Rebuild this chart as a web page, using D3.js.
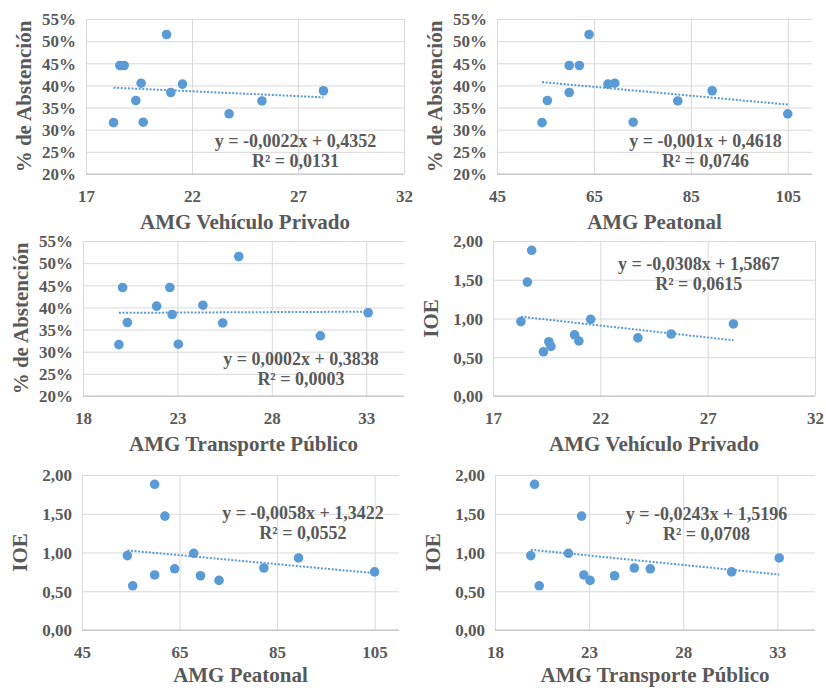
<!DOCTYPE html>
<html>
<head>
<meta charset="utf-8">
<script src="https://cdn.jsdelivr.net/npm/d3@7"></script>
<style>
  body { margin: 0; background: #fff; }
  #vis { width: 826px; height: 688px; }
  text { font-family: 'Liberation Serif', 'Times New Roman', serif; font-weight: bold; fill: #595959; }
</style>
</head>
<body>
<div id="vis"></div>
<script>
// values, one entry per municipality (same order in every array)
var vehiculo   = [18.3, 18.6, 18.8, 19.35, 19.6, 19.7, 20.8, 21.0, 21.55, 23.75, 25.3, 28.2];
var peatonal   = [54.3, 62.0, 59.9, 55.4, 69.3, 73.1, 64.0, 59.9, 67.9, 105.0, 82.3, 89.4];
var transporte = [19.9, 22.6, 20.1, 20.35, 24.35, 23.05, 26.25, 22.72, 21.9, 30.57, 25.4, 33.1];
var abstencion = [0.316, 0.445, 0.445, 0.366, 0.405, 0.317, 0.515, 0.384, 0.403, 0.336, 0.365, 0.388];
var ioe        = [0.96, 1.47, 1.88, 0.57, 0.70, 0.64, 0.79, 0.71, 0.99, 0.75, 0.80, 0.93];

// axis ticks
var ticksVehiculo   = [17, 22, 27, 32];
var ticksPeatonal   = [45, 65, 85, 105];
var ticksTransporte = [18, 23, 28, 33];
var ticksAbstencion = [0.20, 0.25, 0.30, 0.35, 0.40, 0.45, 0.50, 0.55];
var ticksIoe        = [0, 0.5, 1, 1.5, 2];

// trendlines (Excel linear fit): slope, intercept, R²
var slopes     = [-0.0022, -0.001, 0.0002, -0.0308, -0.0058, -0.0243];
var intercepts = [0.4352, 0.4618, 0.3838, 1.5867, 1.3422, 1.5196];
var r2         = [0.0131, 0.0746, 0.0003, 0.0615, 0.0552, 0.0708];

var xSeries = {
  veh:  { values: vehiculo,   ticks: ticksVehiculo,   domain: [17, 32],  title: 'AMG Vehículo Privado' },
  peat: { values: peatonal,   ticks: ticksPeatonal,   domain: [45, 110], title: 'AMG Peatonal' },
  tra:  { values: transporte, ticks: ticksTransporte, domain: [18, 35],  title: 'AMG Transporte Público' }
};
var ySeries = {
  abs: { values: abstencion, ticks: ticksAbstencion, domain: [0.20, 0.55], title: '% de Abstención' },
  ioe: { values: ioe,        ticks: ticksIoe,        domain: [0, 2],       title: 'IOE' }
};

var locale = d3.formatLocale({ decimal: ',', thousands: '.', grouping: [3], currency: ['', ''], minus: '-' });
var fmtPct = locale.format('.0%');
var fmtIoe = locale.format('.2f');
var fmtSlope = locale.format('.4~f');
var fmtEq  = locale.format('.4f');

// panel boxes in page px, label position as fraction of plot box
var panels = [
  { x: 'veh',  y: 'abs', left: 86,  right: 404, top: 19,  bottom: 174, lx: 0.659, ly: 0.824 },
  { x: 'peat', y: 'abs', left: 497, right: 812, top: 19,  bottom: 174, lx: 0.662, ly: 0.824 },
  { x: 'tra',  y: 'abs', left: 83,  right: 404, top: 241, bottom: 396, lx: 0.679, ly: 0.80 },
  { x: 'veh',  y: 'ioe', left: 493, right: 815, top: 241, bottom: 396, lx: 0.639, ly: 0.188 },
  { x: 'peat', y: 'ioe', left: 82,  right: 399, top: 475, bottom: 630, lx: 0.697, ly: 0.284 },
  { x: 'tra',  y: 'ioe', left: 495, right: 815, top: 475, bottom: 630, lx: 0.661, ly: 0.291 }
];

var svg = d3.select('#vis')
  .append('svg')
  .attr('width', 826)
  .attr('height', 688);

panels.forEach(function(p, i) {
  var xs = xSeries[p.x], ys = ySeries[p.y];
  var w = p.right - p.left, h = p.bottom - p.top;

  var x_scale = d3.scaleLinear().domain(xs.domain).range([0, w]);
  var y_scale = d3.scaleLinear().domain(ys.domain).range([h, 0]);

  var g = svg.append('g')
    .attr('transform', 'translate(' + p.left + ',' + p.top + ')');

  // gridlines + tick labels
  var yAxis = d3.axisLeft(y_scale)
    .tickValues(ys.ticks)
    .tickSize(-w)
    .tickFormat(p.y == 'abs' ? fmtPct : fmtIoe);
  var gy = g.append('g').attr('class', 'y axis').call(yAxis);
  gy.select('.domain').remove();
  gy.selectAll('line').attr('stroke', '#d9d9d9');
  gy.selectAll('text')
    .attr('x', -10)
    .attr('dy', '0.34em')
    .style('font-size', '17px');

  var xAxis = d3.axisBottom(x_scale)
    .tickValues(xs.ticks)
    .tickSize(-h);
  var gx = g.append('g').attr('class', 'x axis')
    .attr('transform', 'translate(0,' + h + ')')
    .call(xAxis);
  gx.select('.domain').remove();
  gx.selectAll('line').attr('stroke', '#d9d9d9');
  gx.selectAll('text')
    .attr('y', 28)
    .attr('dy', 0)
    .style('font-size', '17px');

  // bottom axis line
  g.append('line')
    .attr('x1', 0).attr('x2', w)
    .attr('y1', h).attr('y2', h)
    .attr('stroke', '#bfbfbf');

  // axis titles (keep the last row inside the page)
  g.append('text')
    .attr('x', w / 2)
    .attr('y', Math.min(h + 55, 682 - p.top))
    .attr('text-anchor', 'middle')
    .style('font-size', '21px')
    .text(xs.title);

  g.append('text')
    .attr('transform', 'translate(-55,' + (h / 2) + ') rotate(-90)')
    .attr('text-anchor', 'middle')
    .style('font-size', '21px')
    .text(ys.title);

  // trendline from min x to max x
  var ext = d3.extent(xs.values);
  var fit = function(v) { return slopes[i] * v + intercepts[i]; };
  g.append('line')
    .attr('x1', x_scale(ext[0])).attr('y1', y_scale(fit(ext[0])))
    .attr('x2', x_scale(ext[1])).attr('y2', y_scale(fit(ext[1])))
    .attr('stroke', '#5b9bd5')
    .attr('stroke-width', 2)
    .attr('stroke-dasharray', '2,1.6');

  // points
  var pts = xs.values.map(function(v, k) { return [v, ys.values[k]]; });
  g.selectAll('.dot')
    .data(pts)
    .enter()
    .append('circle')
    .attr('class', 'dot')
    .attr('cx', function(d) { return x_scale(d[0]); })
    .attr('cy', function(d) { return y_scale(d[1]); })
    .attr('r', 4.8)
    .attr('fill', '#5b9bd5');

  // equation label
  var sign = intercepts[i] < 0 ? ' - ' : ' + ';
  var eq = 'y = ' + fmtSlope(slopes[i]) + 'x' + sign + fmtEq(Math.abs(intercepts[i]));
  var lab = g.append('text')
    .attr('text-anchor', 'middle')
    .style('font-size', '18px');
  lab.append('tspan')
    .attr('x', p.lx * w).attr('y', p.ly * h)
    .text(eq);
  lab.append('tspan')
    .attr('x', p.lx * w).attr('y', p.ly * h + 20)
    .text('R² = ' + fmtEq(r2[i]));
});
</script>
</body>
</html>
